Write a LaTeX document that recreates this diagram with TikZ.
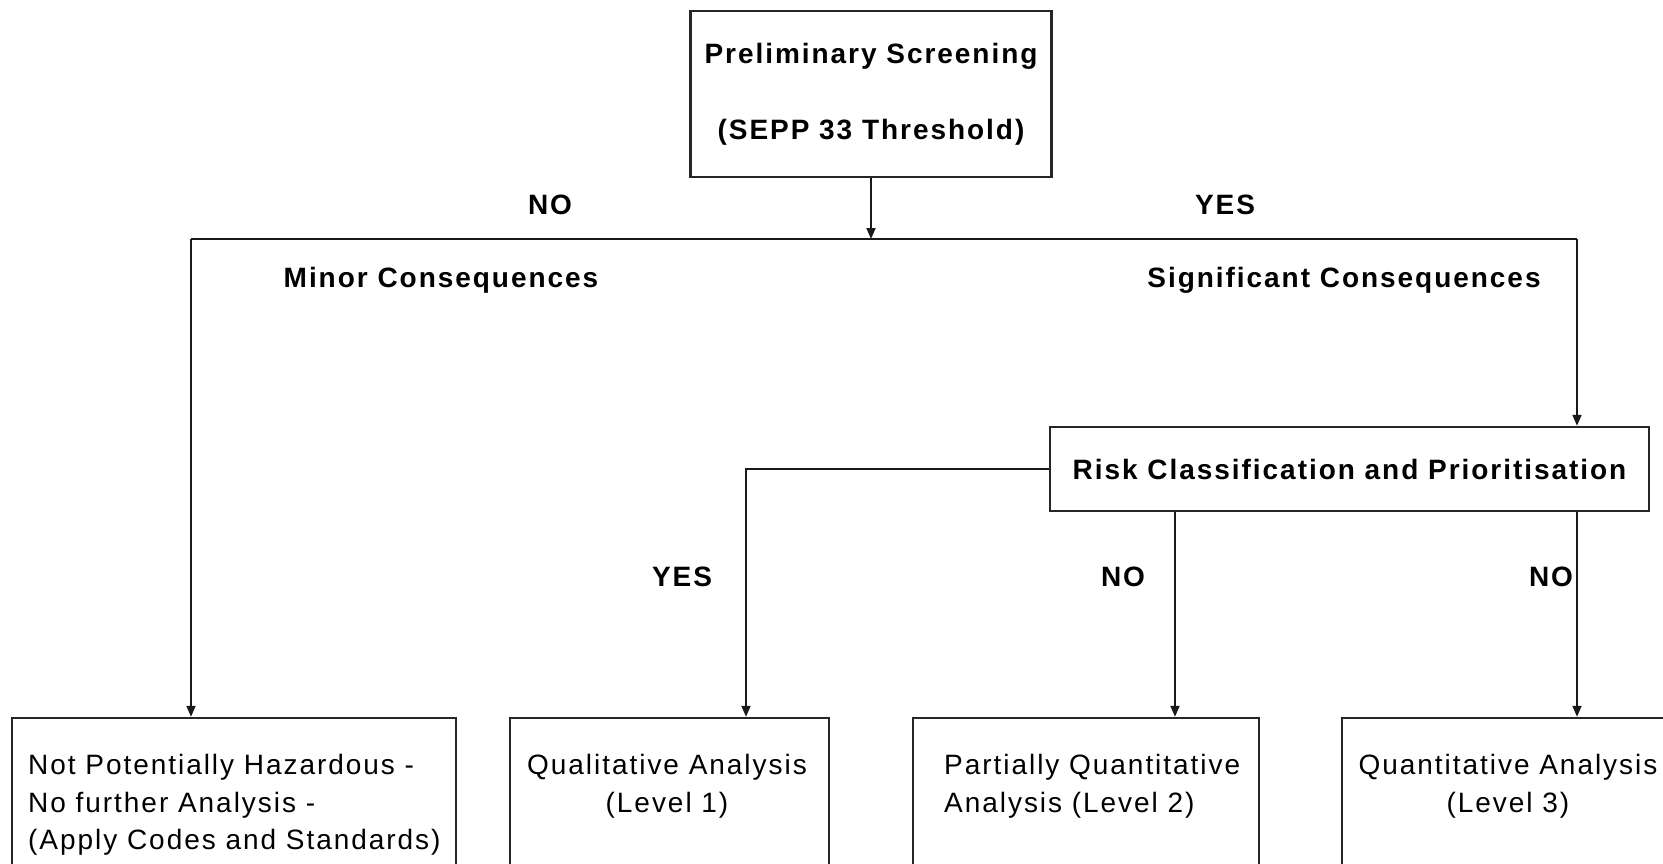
\documentclass[tikz,border=0pt]{standalone}
\usepackage{fontspec}
\setmainfont{Liberation Sans}[LetterSpace=7]
\usetikzlibrary{positioning, arrows.meta}

\begin{document}
\begin{tikzpicture}[x=1pt,y=-1pt,
  box/.style={draw=black!85,line width=2.4pt,inner sep=0pt},
  lbl/.style={font=\fontsize{28}{38}\selectfont\bfseries,inner sep=0pt},
  txt/.style={font=\fontsize{28}{37.6}\selectfont,inner sep=0pt},
  link/.style={draw=black!90,line width=1.8pt},
  arr/.style={link,-{Triangle[length=11pt,width=9pt]}}]
\useasboundingbox (0,0) rectangle (1663,864);
\clip (0,0) rectangle (1663,864);
% screening and classification
\node[box,lbl,align=center,minimum width=361pt,minimum height=166pt] (screen) at (871,94) {Preliminary Screening\\[38pt](SEPP 33 Threshold)};
\node[box,lbl,minimum width=599pt,minimum height=84pt] (risk) at (1349.5,469) {Risk Classification and Prioritisation};
% outcome boxes
\node[box,minimum width=444pt,minimum height=150pt] (none) at (234,793) {};
\node[box,minimum width=319pt,minimum height=150pt] (qual) at (669.5,793) {};
\node[box,minimum width=346pt,minimum height=150pt] (part) at (1086,793) {};
\node[box,minimum width=358pt,minimum height=150pt] (quant) at (1521,793) {};
\node[txt,align=left,anchor=west] (nonetxt) at (28,805) {Not Potentially Hazardous -\\No further Analysis -\\(Apply Codes and Standards)};
\node[txt,align=center] (qualtxt) at (667,786) {Qualitative Analysis\\(Level 1)};
\node[txt,align=left,anchor=west] (parttxt) at (944,786) {Partially Quantitative\\Analysis (Level 2)};
\node[txt,align=center] (quanttxt) at (1508,786) {Quantitative Analysis\\(Level 3)};
% split after screening
\coordinate (split) at (871,239);
\coordinate (lcorner) at (191,239);
\coordinate (rcorner) at (1577,239);
\draw[arr] (screen) -- (split);
\draw[link] (lcorner) -- (rcorner);
\draw[arr] (lcorner) -- (lcorner |- none.north);
\draw[arr] (rcorner) -- (rcorner |- risk.north);
% branches from classification
\coordinate (qcorner) at (746,469);
\coordinate (pdrop) at (1175,0);
\draw[arr] (risk.west) -- (qcorner) -- (qcorner |- qual.north);
\draw[arr] (pdrop |- risk.south) -- (pdrop |- part.north);
\draw[arr] (rcorner |- risk.south) -- (rcorner |- quant.north);
% labels
\node[lbl] (no1) at (550,205) {NO};
\node[lbl] (yes1) at (1225,205) {YES};
\node[lbl] (minor) at (441,280) {Minor Consequences};
\node[lbl] (signif) at (1344,280) {Significant Consequences};
\node[lbl] (yes2) at (682,577) {YES};
\node[lbl] (no2) at (1123,577) {NO};
\node[lbl] (no3) at (1551,577) {NO};
\end{tikzpicture}
\end{document}
